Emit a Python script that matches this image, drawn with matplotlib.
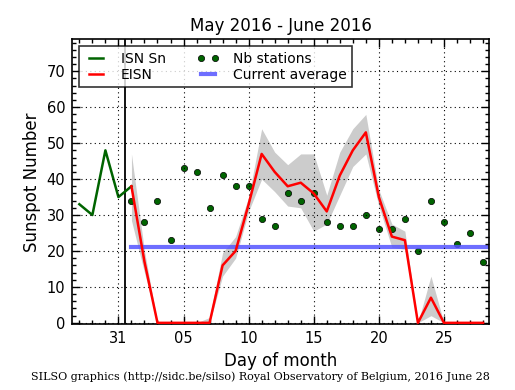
import numpy as np
import matplotlib
matplotlib.use("Agg")
import matplotlib.pyplot as plt
import matplotlib.dates as mdates
from matplotlib.ticker import MultipleLocator, FixedLocator

# provisional international sunspot number, last days of May
isn_days = np.arange('2016-05-28', '2016-06-02', dtype='datetime64[D]')
isn_sn = [33, 30, 48, 35, 38]

# estimated ISN for June, with its error band
eisn_days = np.arange('2016-06-01', '2016-06-29', dtype='datetime64[D]')
eisn = [38, 17, 0, 0, 0, 0, 0, 16, 20, 33, 47, 42, 38, 39, 36,
        31, 41, 48, 53, 35, 24, 23, 0, 7, 0, 0, 0, 0]
eisn_low = [28.5, 14, 0, 0, 0, 0, 0, 13, 18, 31, 40, 36.5, 32.5, 32, 25.5,
            27.5, 35.5, 43.5, 47, 32.5, 21, 20.5, 0, 2, 0, 0, 0, 0]
eisn_high = [47, 20, 0, 0, 0, 0, 1.5, 19.5, 24, 35, 54, 47.5, 44, 47, 47,
             35.5, 47.5, 54, 58, 37, 27.5, 25.5, 0, 13, 0, 0, 0, 0]

# number of stations per day
nb_stations = [34, 28, 34, 23, 43, 42, 32, 41, 38, 38, 29, 27, 36, 34, 36,
               28, 27, 27, 30, 26, 26, 29, 20, 34, 28, 22, 25, 17]

current_avg = 21
month_edge = np.datetime64('2016-05-31T12:00')
avg_end = np.datetime64('2016-06-30')

fig = plt.figure(figsize=(5.15, 3.9), dpi=100)
ax = fig.add_axes([0.1404, 0.1685, 0.8091, 0.7308])
ax.set_axisbelow(False)

ax.fill_between(eisn_days, eisn_low, eisn_high, color='0.8', lw=0)
ax.axvline(month_edge, color='k', lw=1.3)
l1, = ax.plot(isn_days, isn_sn, color='#006400', lw=1.8, label='ISN Sn')
l2, = ax.plot(eisn_days, eisn, color='r', lw=1.8, label='EISN', zorder=3)
l3, = ax.plot(eisn_days, nb_stations, 'o', color='#006400', mec='k', mew=0.5,
              ms=4.5, label='Nb stations')
l4, = ax.plot([eisn_days[0], avg_end], [current_avg, current_avg],
              color='#5555ff', alpha=0.85, lw=3, label='Current average')

ax.set_xlim(np.datetime64('2016-05-27T11:00'), np.datetime64('2016-06-28T11:00'))
ax.set_ylim(-0.4, 78.9)

major_days = np.array(['2016-05-31', '2016-06-05', '2016-06-10', '2016-06-15',
                       '2016-06-20', '2016-06-25'], dtype='datetime64[D]')
ax.xaxis.set_major_locator(FixedLocator(mdates.date2num(major_days)))
ax.xaxis.set_major_formatter(mdates.DateFormatter('%d'))
ax.xaxis.set_minor_locator(mdates.DayLocator())
ax.yaxis.set_major_locator(MultipleLocator(10))
ax.yaxis.set_minor_locator(MultipleLocator(2))
ax.tick_params(which='both', direction='in', top=True, right=True)
ax.tick_params(which='major', length=5.5, width=1, labelsize=10.5, pad=5)
ax.tick_params(which='minor', length=2.8, width=1)
for s in ax.spines.values():
    s.set_linewidth(1.2)

ax.grid(True, which='major', color='k', linestyle=(0, (1, 3)), lw=0.8)

ax.set_title('May 2016 - June 2016', fontsize=12)
ax.set_xlabel('Day of month', fontsize=12)
ax.set_ylabel('Sunspot Number', fontsize=12)

leg = ax.legend(handles=[l1, l2, l3, l4], loc='upper left', ncol=2,
                numpoints=2, fontsize=10, fancybox=False, handlelength=1.6,
                handletextpad=1.0, columnspacing=2.2, borderpad=0.4,
                labelspacing=0.15)
leg.get_frame().set_edgecolor('k')
leg.get_frame().set_linewidth(1.2)

fig.text(0.505, 0.034, 'SILSO graphics (http://sidc.be/silso) Royal Observatory of Belgium, 2016 June 28',
         ha='center', va='center', fontsize=8, family='DejaVu Serif')

fig.savefig('out.png', dpi=100)
